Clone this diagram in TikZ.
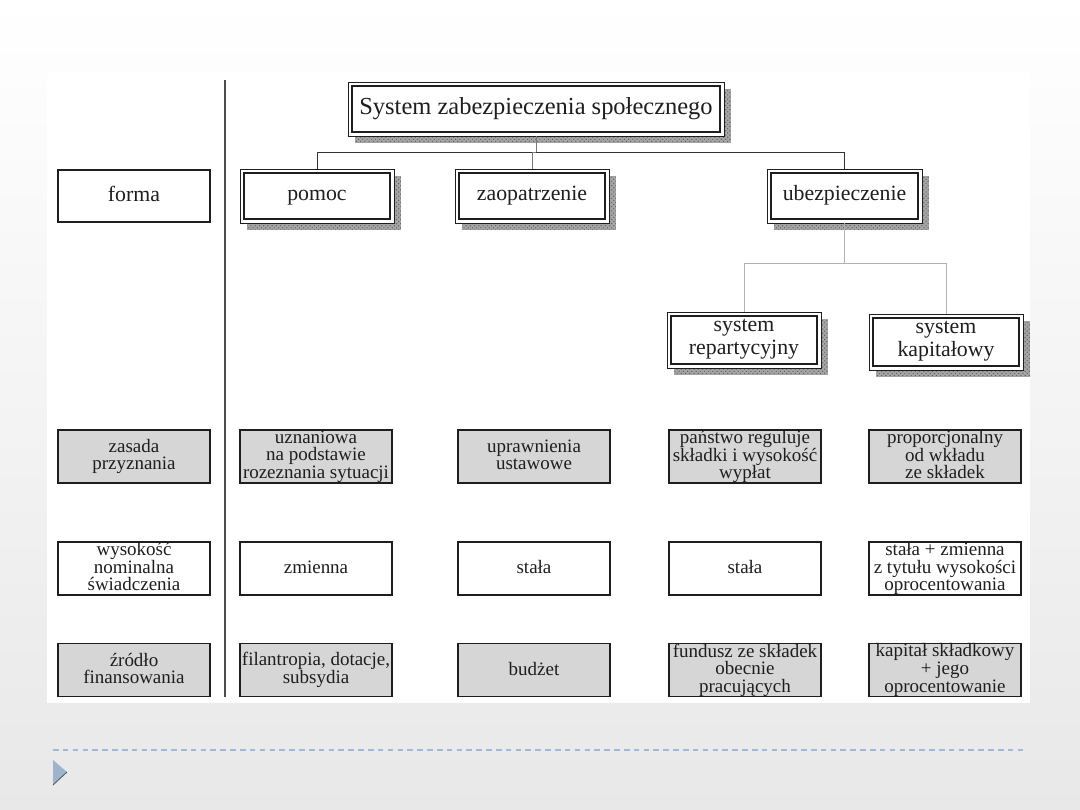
\documentclass[tikz,border=0pt]{standalone}
\usepackage{fontspec}
\setmainfont{Liberation Serif}
\usetikzlibrary{calc,patterns}
\definecolor{boxgray}{RGB}{214,214,214}
\definecolor{shadowgray}{RGB}{165,165,165}
\definecolor{linegray}{RGB}{120,120,120}
\definecolor{ink}{RGB}{30,30,30}
\definecolor{dashblue}{RGB}{160,186,214}
\definecolor{triblue}{RGB}{158,180,204}
\pgfdeclarelayer{back}
\pgfdeclarelayer{bg}
\pgfsetlayers{back,bg,main}
\begin{document}
\begin{tikzpicture}[x=0.025cm,y=-0.025cm,
  every node/.style={text=ink},
  head/.style={draw=ink, line width=1.4pt, fill=white, inner sep=0pt, align=center,
    minimum width=146*0.025cm, minimum height=46*0.025cm,
    font=\fontsize{15.5}{16}\selectfont,
    execute at begin node=\strut, execute at end node=\strut},
  cell/.style={draw=ink, line width=0.9pt, inner sep=0pt, align=center,
    minimum width=152*0.025cm, minimum height=53*0.025cm,
    font=\fontsize{13.5}{12.5}\selectfont,
    execute at begin node=\rule{0pt}{10pt}, execute at end node=\rule[-2.5pt]{0pt}{2.5pt}},
  graycell/.style={cell, fill=boxgray},
  whitecell/.style={cell, fill=white},
  conn/.style={draw=linegray, line width=0.7pt},
  frame/.style={draw=ink, line width=0.6pt, fill=white},
  shadow/.style={fill=shadowgray, draw=none}]
\useasboundingbox (0,0) rectangle (1080,810);
\begin{pgfonlayer}{back}
  \shade[top color=white, bottom color=gray!18] (0,0) rectangle (1080,810);
  \fill[white] (47,73) rectangle (1030,703);
\end{pgfonlayer}

% divider
\draw[line width=1.2pt, draw=gray!60!black] (225,80) -- (225,697);

% tree nodes
\node[head, minimum width=368*0.025cm, font=\fontsize{17.4}{20}\selectfont] (title) at (536,109) {System zabezpieczenia społecznego};
\node[head] (pomoc) at (317,196) {pomoc};
\node[head] (zaop) at (532,196) {zaopatrzenie};
\node[head, minimum width=147*0.025cm] (ubez) at (844.5,196) {ubezpieczenie};
\node[head, minimum height=48*0.025cm] (rep) at (744,340) {system\\repartycyjny};
\node[head, minimum height=48*0.025cm] (kap) at (946,342) {system\\kapitałowy};

% shadows and outer frames
\begin{pgfonlayer}{bg}
  \foreach \n in {title,pomoc,zaop,ubez,rep,kap}{
    \fill[shadow] ([shift={(4,4)}]\n.north west) rectangle ([shift={(10,10)}]\n.south east);
    \fill[pattern=crosshatch dots, pattern color=gray!75!black] ([shift={(4,4)}]\n.north west) rectangle ([shift={(10,10)}]\n.south east);
    \draw[frame] ([shift={(-3,-3)}]\n.north west) rectangle ([shift={(3,3)}]\n.south east);
  }
\end{pgfonlayer}

% connectors
\draw[conn] ([shift={(0,3)}]title.south) -- ++(0,17) coordinate (j1);
\draw[conn, draw=gray!40!black] (j1) -| ([shift={(0,-3)}]pomoc.north);
\draw[conn, draw=gray!40!black] (j1) -| ([shift={(0,-3)}]ubez.north);
\draw[conn] (j1) -| ([shift={(0,-3)}]zaop.north);
\draw[conn, draw=gray!60] ([shift={(0,3)}]ubez.south) -- ++(0,41) coordinate (j2);
\draw[conn, draw=gray!60] (j2) -| ([shift={(0,-3)}]rep.north);
\draw[conn, draw=gray!60] (j2) -| ([shift={(0,-3)}]kap.north);

% left column
\node[whitecell, minimum height=52*0.025cm, font=\fontsize{15.5}{16}\selectfont] (forma) at (134,196) {forma};
\node[graycell] (zasada) at (134,456.5) {zasada\\przyznania};
\node[whitecell] (wys) at (134,568.5) {wysokość\\nominalna\\świadczenia};
\node[graycell] (zrodlo) at (134,670) {źródło\\finansowania};

% row: zasada przyznania
\node[graycell] (a1) at (316,456.5) {uznaniowa\\na podstawie\\rozeznania sytuacji};
\node[graycell] (a2) at (534,456.5) {uprawnienia\\ustawowe};
\node[graycell] (a3) at (745,456.5) {państwo reguluje\\składki i wysokość\\wypłat};
\node[graycell] (a4) at (945,456.5) {proporcjonalny\\od wkładu\\ze składek};

% row: wysokosc
\node[whitecell] (b1) at (316,568.5) {zmienna};
\node[whitecell] (b2) at (534,568.5) {stała};
\node[whitecell] (b3) at (745,568.5) {stała};
\node[whitecell] (b4) at (945,568.5) {stała + zmienna\\z tytułu wysokości\\oprocentowania};

% row: zrodlo
\node[graycell] (c1) at (316,670) {filantropia, dotacje,\\subsydia};
\node[graycell] (c2) at (534,670) {budżet};
\node[graycell] (c3) at (745,670) {fundusz ze składek\\obecnie\\pracujących};
\node[graycell] (c4) at (945,670) {kapitał składkowy\\+ jego\\oprocentowanie};

% slide footer
\draw[draw=dashblue, line width=0.8pt, dash pattern=on 4 off 3] (53,750) -- (1025,750);
\fill[triblue] (53,760) -- (67,772) -- (53,785) -- cycle;
\draw[gray!70!black, line width=0.6pt] (67,772) -- (53,785);
\end{tikzpicture}
\end{document}
